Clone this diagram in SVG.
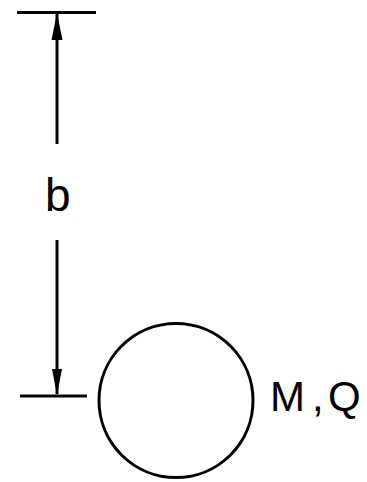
<svg xmlns="http://www.w3.org/2000/svg" width="367" height="482" viewBox="0 0 367 482">
<style>
.ln{stroke:#000;stroke-width:3;fill:none;stroke-linecap:butt}
.ah{fill:#000;stroke:none}
.lbl{font-family:"Liberation Sans",Arial,sans-serif;fill:#000}
</style>
<rect width="367" height="482" fill="#fff"/>
<g id="connectors">
<line class="ln" x1="17" y1="12.5" x2="96" y2="12.5"/>
<line class="ln" x1="20" y1="396" x2="87" y2="396"/>
<line class="ln" x1="57" y1="14" x2="57" y2="144"/>
<line class="ln" x1="57" y1="240" x2="57" y2="394"/>
<polygon class="ah" points="57,13 62.5,40 51.5,40"/>
<polygon class="ah" points="57,395 62,369 52,369"/>
</g>
<g id="label-b">
<text class="lbl" x="45" y="211" font-size="46">b</text>
</g>
<g id="node-mq">
<circle cx="176" cy="400.5" r="77" fill="none" stroke="#000" stroke-width="3"/>
<text class="lbl" y="411" font-size="42"><tspan x="270">M</tspan><tspan x="312">,</tspan><tspan x="328">Q</tspan></text>
</g>
</svg>
